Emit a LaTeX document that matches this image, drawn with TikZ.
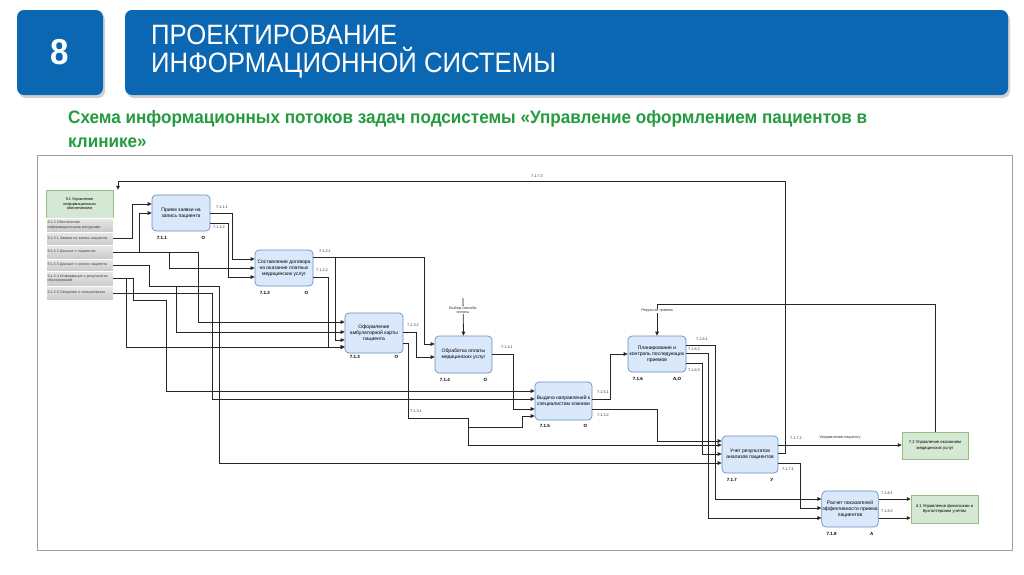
\documentclass[tikz,border=0pt]{standalone}
\usepackage{fontspec}
\setmainfont{Liberation Sans}
\newfontfamily\headfont[FakeStretch=0.92]{Liberation Sans}
\newfontfamily\subfont[FakeStretch=0.95]{Liberation Sans}
\usetikzlibrary{arrows.meta,positioning}
\definecolor{slideblue}{RGB}{11,103,178}
\definecolor{subgreen}{RGB}{35,155,62}
\definecolor{procfill}{RGB}{218,232,252}
\definecolor{procline}{RGB}{108,142,191}
\definecolor{extfill}{RGB}{213,232,212}
\definecolor{extline}{RGB}{150,190,130}
\definecolor{frameline}{RGB}{160,160,160}
\tikzset{
 proc/.style={draw=procline,fill=procfill,rounded corners=4pt,line width=.7pt,minimum width=58pt,minimum height=36pt,inner sep=.5pt,align=center,font=\fontsize{5}{6}\selectfont},
 ext/.style={draw=extline,fill=extfill,line width=.5pt,minimum width=66pt,minimum height=27pt,inner sep=.5pt,align=center,font=\fontsize{4.2}{5.2}\selectfont},
 srcrow/.style={draw=white,line width=.6pt,top color=gray!18,bottom color=gray!42,minimum width=67pt,text width=64pt,inner xsep=1.5pt,inner ysep=0pt,align=left,font=\fontsize{3.7}{4.4}\selectfont,text=black!75},
 flow/.style={draw=black!85,line width=.8pt,-{Triangle[length=4pt,width=3.6pt]}},
 port/.style={font=\fontsize{3.8}{4.2}\selectfont,inner sep=0pt,text=black!80},
 num/.style={font=\bfseries\fontsize{4.5}{5}\selectfont,inner sep=0pt},
 note/.style={font=\fontsize{3.8}{4.6}\selectfont,inner sep=.5pt,fill=white,align=center,text=black!80}
}
\begin{document}
\begin{tikzpicture}[x=1pt,y=-1pt]
 \useasboundingbox (0,0) rectangle (1024,574);
 \fill[white] (0,0) rectangle (1024,574);
 % heading
 \fill[black!18,rounded corners=7pt] (19,13) rectangle (105,98);
 \fill[black!18,rounded corners=7pt] (127,13) rectangle (1010,98);
 \fill[slideblue,rounded corners=7pt] (17,10) rectangle (103,95);
 \fill[slideblue,rounded corners=7pt] (125,10) rectangle (1008,95);
 \node[text=white,font=\headfont\bfseries\fontsize{36}{38}\selectfont] (num8) at (60,52) {8};
 \node[anchor=west,text=white,align=left,inner sep=0pt,font=\headfont\fontsize{28}{28}\selectfont] (title) at (151,52) {ПРОЕКТИРОВАНИЕ\\ИНФОРМАЦИОННОЙ СИСТЕМЫ};
 \node[anchor=north west,text=subgreen,align=left,inner sep=0pt,font=\subfont\bfseries\fontsize{18}{24}\selectfont] (subtitle) at (68,110) {Схема информационных потоков задач подсистемы «Управление оформлением пациентов в\\клинике»};
 % frame
 \draw[frameline,line width=.8pt] (37,155) rectangle (1012,550);

 % source
 \node[draw=extline,fill=extfill,minimum width=67pt,minimum height=28pt,inner sep=0pt,align=center,font=\fontsize{3.8}{4.6}\selectfont] (hdr91) at (79.5,204) {9.1 Управление\\информационным\\обеспечением};
 \node[srcrow,minimum height=14pt] (row9130) at (79.5,225) {9.1.3 Обеспечение\\информационными ресурсами};
 \node[srcrow,minimum height=13pt] (row9131) at (79.5,238.5) {9.1.3.1 Заявки на запись пациента};
 \node[srcrow,minimum height=14pt] (row9132) at (79.5,252) {9.1.3.2 Данные о пациентах};
 \node[srcrow,minimum height=12pt] (row9133) at (79.5,265) {9.1.3.3 Данные о записи пациента};
 \node[srcrow,minimum height=15pt] (row9134) at (79.5,278.5) {9.1.3.4 Информация о результатах\\обследований};
 \node[srcrow,minimum height=14pt] (row9135) at (79.5,293) {9.1.3.5 Сведения о специалистах};

 % tasks
 \node[proc] (p711) at (181,213) {Прием заявки на\\запись пациента};
 \node[proc] (p712) at (284,268) {Составление договора\\на оказание платных\\медицинских услуг};
 \node[proc,minimum height=40pt] (p713) at (374,333) {Оформление\\амбулаторной карты\\пациента};
 \node[proc,minimum width=57pt,minimum height=37pt] (p714) at (463.5,354.5) {Обработка оплаты\\медицинских услуг};
 \node[proc,minimum width=57pt,minimum height=38pt] (p715) at (563.5,401) {Выдача направлений к\\специалистам клиники};
 \node[proc] (p716) at (657,354) {Планирование и\\контроль последующих\\приемов};
 \node[proc,minimum width=56pt,minimum height=37pt] (p717) at (750,454.5) {Учет результатов\\анализов пациентов};
 \node[proc,minimum width=56pt] (p718) at (850,509) {Расчет показателей\\эффективности приема\\пациентов};
 \node[ext] (d72) at (935,445.5) {7.2 Управление оказанием\\медицинских услуг};
 \node[ext,minimum width=67pt,minimum height=28pt] (d41) at (944.5,509) {4.1 Управление финансами и\\бухгалтерским учетом};

 % numbers under the tasks
 \node[num,below right=5pt and 5pt of p711.south west] (n711) {7.1.1};
 \node[num,below left=5pt and 5pt of p711.south east] (o711) {О};
 \node[num,below right=5pt and 5pt of p712.south west] (n712) {7.1.2};
 \node[num,below left=5pt and 5pt of p712.south east] (o712) {О};
 \node[num,below right=2pt and 5pt of p713.south west] (n713) {7.1.3};
 \node[num,below left=2pt and 5pt of p713.south east] (o713) {О};
 \node[num,below right=5pt and 5pt of p714.south west] (n714) {7.1.4};
 \node[num,below left=5pt and 5pt of p714.south east] (o714) {О};
 \node[num,below right=4pt and 5pt of p715.south west] (n715) {7.1.5};
 \node[num,below left=4pt and 5pt of p715.south east] (o715) {О};
 \node[num,below right=5pt and 5pt of p716.south west] (n716) {7.1.6};
 \node[num,below left=5pt and 5pt of p716.south east] (o716) {А,О};
 \node[num,below right=5pt and 5pt of p717.south west] (n717) {7.1.7};
 \node[num,below left=5pt and 5pt of p717.south east] (o717) {У};
 \node[num,below right=5pt and 5pt of p718.south west] (n718) {7.1.8};
 \node[num,below left=5pt and 5pt of p718.south east] (o718) {А};

 % source flows
 \draw[flow] (row9131.east) -| (132,204) -- (p711.west |- 0,204);
 \draw[flow] (row9132.east) -| (139,213) -- (p711.west |- 0,213);
 \draw[flow] (row9132.east) -| (169,268) -- (p712.west |- 0,268);
 \draw[flow] (row9132.east) -| (198,322) -- (p713.west |- 0,322);
 \draw[flow] (row9133.east) -| (149,286) -| (176,332) -- (p713.west |- 0,332);
 \draw[flow] (row9133.east) -| (149,286) -| (219,463) -- (p717.west |- 0,463);
 \draw[flow] (row9134.east) -| (126,347) -- (p713.west |- 0,347);
 \draw[flow] (row9134.east) -| (133,300) -| (166,391) -- (p715.west |- 0,391);
 \draw[flow] (row9135.east) -| (212,399) -- (p715.west |- 0,399);

 % task flows
 \draw[flow] (p711.east |- 0,213) -| (232,259) -- (p712.west |- 0,259);
 \draw[flow] (p711.east |- 0,223) -| (228,277) -- (p712.west |- 0,277);
 \draw[flow] (p712.east |- 0,257) -| (424,344) -- (p714.west |- 0,344);
 \draw[flow] (p712.east |- 0,257) -| (335,340) -- (p713.west |- 0,340);
 \draw[flow] (p712.east |- 0,277) -| (328,347) -- (p713.west |- 0,347);
 \draw[flow] (p713.east |- 0,332) -| (416,357) -- (p714.west |- 0,357);
 \draw[flow] (p713.east |- 0,343) -| (408,418) -| (468,445) -- (p717.west |- 0,445);
 \draw[flow] (p713.east |- 0,343) -| (408,418) -| (468,427) -| (522,416) -- (p715.west |- 0,416);
 \draw[flow] (p714.east |- 0,354) -| (513,409) -- (p715.west |- 0,409);
 \draw[flow] (p715.east |- 0,399) -| (610,354) -- (p716.west);
 \draw[flow] (p715.east |- 0,409) -| (657,441) -- (p717.west |- 0,441);
 \draw[flow] (p716.east |- 0,345) -| (715,499) -- (p718.west |- 0,499);
 \draw[flow] (p716.east |- 0,353) -| (708,518) -- (p718.west |- 0,518);
 \draw[flow] (p716.east |- 0,363) -| (702,454) -- (p717.west |- 0,454);
 \draw[flow] (p717.east |- 0,445) -- (d72.west |- 0,445);
 \draw[flow] (p717.east |- 0,463) -| (800,508) -- (p718.west |- 0,508);
 \draw[flow] (p717.east |- 0,453) -| (785,181) -| (hdr91.north -| 118,0);
 \draw[flow] (p718.east |- 0,499) -- (d41.west |- 0,499);
 \draw[flow] (p718.east |- 0,518) -- (d41.west |- 0,518);
 \draw[flow] (d72.north) |- (657,304) -- (p716.north);
 \coordinate (payin) at (463,298);
 \draw[flow] (payin) -- (p714.north);

 % flow labels
 \node[note] (res) at (657,311) {Результат приема};
 \node[note] (pay) at (463,310) {Выбор способа\\оплаты};
 \node[port] (l7111) at (222,207) {7.1.1.1};
 \node[port] (l7112) at (219,227) {7.1.1.2};
 \node[port] (l7121) at (325,251) {7.1.2.1};
 \node[port] (l7122) at (322,270) {7.1.2.2};
 \node[port] (l7132) at (413,325) {7.1.3.2};
 \node[port] (l7131) at (416,411) {7.1.3.1};
 \node[port] (l7141) at (507,347) {7.1.4.1};
 \node[port] (l7151) at (603,392) {7.1.5.1};
 \node[port] (l7152) at (603,415) {7.1.5.2};
 \node[port] (l7161) at (702,339) {7.1.6.1};
 \node[port] (l7162) at (694,349) {7.1.6.2};
 \node[port] (l7163) at (694,370) {7.1.6.3};
 \node[port] (l7172) at (796,438) {7.1.7.2};
 \node[port] (l7171) at (788,469) {7.1.7.1};
 \node[port] (l7173) at (537,176) {7.1.7.3};
 \node[port] (l7181) at (887,493) {7.1.8.1};
 \node[port] (l7182) at (887,511) {7.1.8.2};
 \node[port,font=\fontsize{3.8}{4.6}\selectfont] (notify) at (840,438) {Уведомление пациенту};
\end{tikzpicture}
\end{document}
